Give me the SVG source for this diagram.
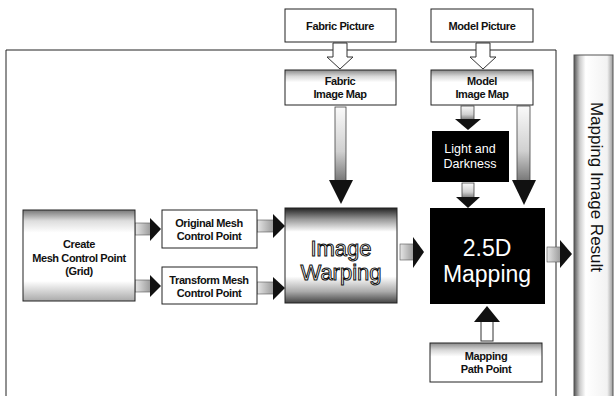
<svg xmlns="http://www.w3.org/2000/svg" width="615" height="396" viewBox="0 0 615 396">
<defs>
<style>
.box{stroke:#222;stroke-width:1;fill:url(#topBand)}
.lbl{font-family:"Liberation Sans",Arial,sans-serif;font-size:11px;font-weight:bold;fill:#111;text-anchor:middle;letter-spacing:-0.4px}
.wlbl{font-family:"Liberation Sans",Arial,sans-serif;fill:#fff;text-anchor:middle}
.head{fill:#111}
.vbody{fill:url(#vArrow);stroke:#444;stroke-width:0.8}
.hbody{fill:url(#hArrow);stroke:#555;stroke-width:0.6}
.hollow{fill:#fff;stroke:#333;stroke-width:1}
</style>
<linearGradient id="topBand" x1="0" y1="0" x2="0" y2="1">
<stop offset="0" stop-color="#8a8a8a"/><stop offset="0.18" stop-color="#d8d8d8"/><stop offset="0.35" stop-color="#fff"/><stop offset="1" stop-color="#fff"/>
</linearGradient>
<linearGradient id="createBand" x1="0" y1="0" x2="0" y2="1">
<stop offset="0" stop-color="#777"/><stop offset="0.12" stop-color="#ddd"/><stop offset="0.25" stop-color="#fff"/><stop offset="0.78" stop-color="#fff"/><stop offset="1" stop-color="#aaa"/>
</linearGradient>
<linearGradient id="warpBand" x1="0" y1="0" x2="0" y2="1">
<stop offset="0" stop-color="#222"/><stop offset="0.12" stop-color="#999"/><stop offset="0.25" stop-color="#fff"/><stop offset="0.72" stop-color="#fff"/><stop offset="0.88" stop-color="#aaa"/><stop offset="1" stop-color="#444"/>
</linearGradient>
<linearGradient id="vArrow" x1="0" y1="0" x2="0" y2="1">
<stop offset="0" stop-color="#fafafa"/><stop offset="0.6" stop-color="#d0d0d0"/><stop offset="1" stop-color="#777"/>
</linearGradient>
<linearGradient id="hArrow" x1="0" y1="0" x2="1" y2="0">
<stop offset="0" stop-color="#e6e6e6"/><stop offset="1" stop-color="#999"/>
</linearGradient>
<linearGradient id="barGrad" x1="0" y1="0" x2="1" y2="0">
<stop offset="0" stop-color="#555"/><stop offset="0.15" stop-color="#ccc"/><stop offset="0.3" stop-color="#fff"/><stop offset="0.85" stop-color="#f2f2f2"/><stop offset="1" stop-color="#999"/>
</linearGradient>
</defs>
<rect width="615" height="396" fill="#fff"/>

<g id="frame">
<path d="M6,396 V50 H556 V396" fill="none" stroke="#222" stroke-width="1"/>
</g>

<g id="result">
<rect x="574" y="55" width="39" height="345" fill="url(#barGrad)" stroke="#555" stroke-width="1"/>
<text class="wlbl" transform="translate(591,187) rotate(90)" style="fill:#111;font-size:17px">Mapping Image Result</text>
</g>

<g id="connectors">
<path class="hollow" d="M333,43 V57 H327 L340,69 L353,57 H347 V43 Z"/>
<path class="hollow" d="M476,43 V57 H470 L483,69 L496,57 H490 V43 Z"/>
<rect class="vbody" x="335" y="107" width="11" height="74"/>
<polygon class="head" points="329,180 353,180 341,204"/>
<rect class="vbody" x="461" y="106" width="13" height="14"/>
<polygon class="head" points="455,119 481,119 468,130"/>
<rect class="vbody" x="517" y="106" width="13" height="75"/>
<polygon class="head" points="512,180 536,180 524,205"/>
<rect class="vbody" x="462" y="183" width="12" height="15"/>
<polygon class="head" points="456,197 480,197 468,208"/>
<rect class="hollow" x="481" y="321" width="12" height="20"/>
<polygon class="head" points="474,322 500,322 487,306"/>
<rect class="hbody" x="135" y="223" width="16" height="12"/>
<polygon class="head" points="150,218 150,241 161,229"/>
<rect class="hbody" x="135" y="280" width="16" height="12"/>
<polygon class="head" points="150,275 150,297 161,286"/>
<rect class="hbody" x="257" y="220" width="17" height="12"/>
<polygon class="head" points="273,214 273,238 285,226"/>
<rect class="hbody" x="257" y="282" width="17" height="12"/>
<polygon class="head" points="273,277 273,300 285,288"/>
<rect class="hbody" x="400" y="244" width="14" height="16"/>
<polygon class="head" points="413,237 413,268 424,252"/>
<rect class="hbody" x="547" y="247" width="14" height="15"/>
<polygon class="head" points="560,240 560,268 572,254"/>
</g>

<g id="fabric-picture">
<rect class="box" x="285" y="9" width="111" height="33" style="fill:#fff"/>
<text class="lbl" x="340" y="30">Fabric Picture</text>
</g>
<g id="model-picture">
<rect class="box" x="431" y="9" width="102" height="33" style="fill:#fff"/>
<text class="lbl" x="482" y="30">Model Picture</text>
</g>
<g id="fabric-image-map">
<rect class="box" x="285" y="70" width="111" height="35"/>
<text class="lbl" x="340" y="85">Fabric</text>
<text class="lbl" x="340" y="98">Image Map</text>
</g>
<g id="model-image-map">
<rect class="box" x="431" y="70" width="102" height="35"/>
<text class="lbl" x="482" y="85">Model</text>
<text class="lbl" x="482" y="98">Image Map</text>
</g>
<g id="light-darkness">
<rect x="432" y="131" width="77" height="51" fill="#000"/>
<text class="wlbl" x="470" y="153" style="font-size:12.5px">Light and</text>
<text class="wlbl" x="470" y="168" style="font-size:12.5px">Darkness</text>
</g>
<g id="mapping-25d">
<rect x="430" y="208" width="115" height="96" fill="#000"/>
<text class="wlbl" x="487" y="256" style="font-size:23px">2.5D</text>
<text class="wlbl" x="487" y="282" style="font-size:23px">Mapping</text>
</g>
<g id="image-warping">
<rect x="285" y="208" width="112" height="95" fill="url(#warpBand)" stroke="#222" stroke-width="1"/>
<text x="341" y="256" style="font-family:'Liberation Sans',Arial,sans-serif;font-size:22px;fill:#fff;stroke:#111;stroke-width:1;text-anchor:middle">Image</text>
<text x="341" y="280" style="font-family:'Liberation Sans',Arial,sans-serif;font-size:22px;fill:#fff;stroke:#111;stroke-width:1;text-anchor:middle">Warping</text>
</g>
<g id="create-mesh">
<rect x="23" y="210" width="112" height="91" fill="url(#createBand)" stroke="#222" stroke-width="1"/>
<text class="lbl" x="79" y="248">Create</text>
<text class="lbl" x="79" y="262">Mesh Control Point</text>
<text class="lbl" x="79" y="275">(Grid)</text>
</g>
<g id="original-mesh">
<rect class="box" x="162" y="210" width="95" height="38" style="fill:#fff"/>
<text class="lbl" x="209" y="227">Original Mesh</text>
<text class="lbl" x="209" y="240">Control Point</text>
</g>
<g id="transform-mesh">
<rect class="box" x="162" y="267" width="95" height="37" style="fill:#fff"/>
<text class="lbl" x="209" y="284">Transform Mesh</text>
<text class="lbl" x="209" y="297">Control Point</text>
</g>
<g id="mapping-path-point">
<rect class="box" x="430" y="343" width="112" height="39"/>
<text class="lbl" x="486" y="360">Mapping</text>
<text class="lbl" x="486" y="373">Path Point</text>
</g>
</svg>
